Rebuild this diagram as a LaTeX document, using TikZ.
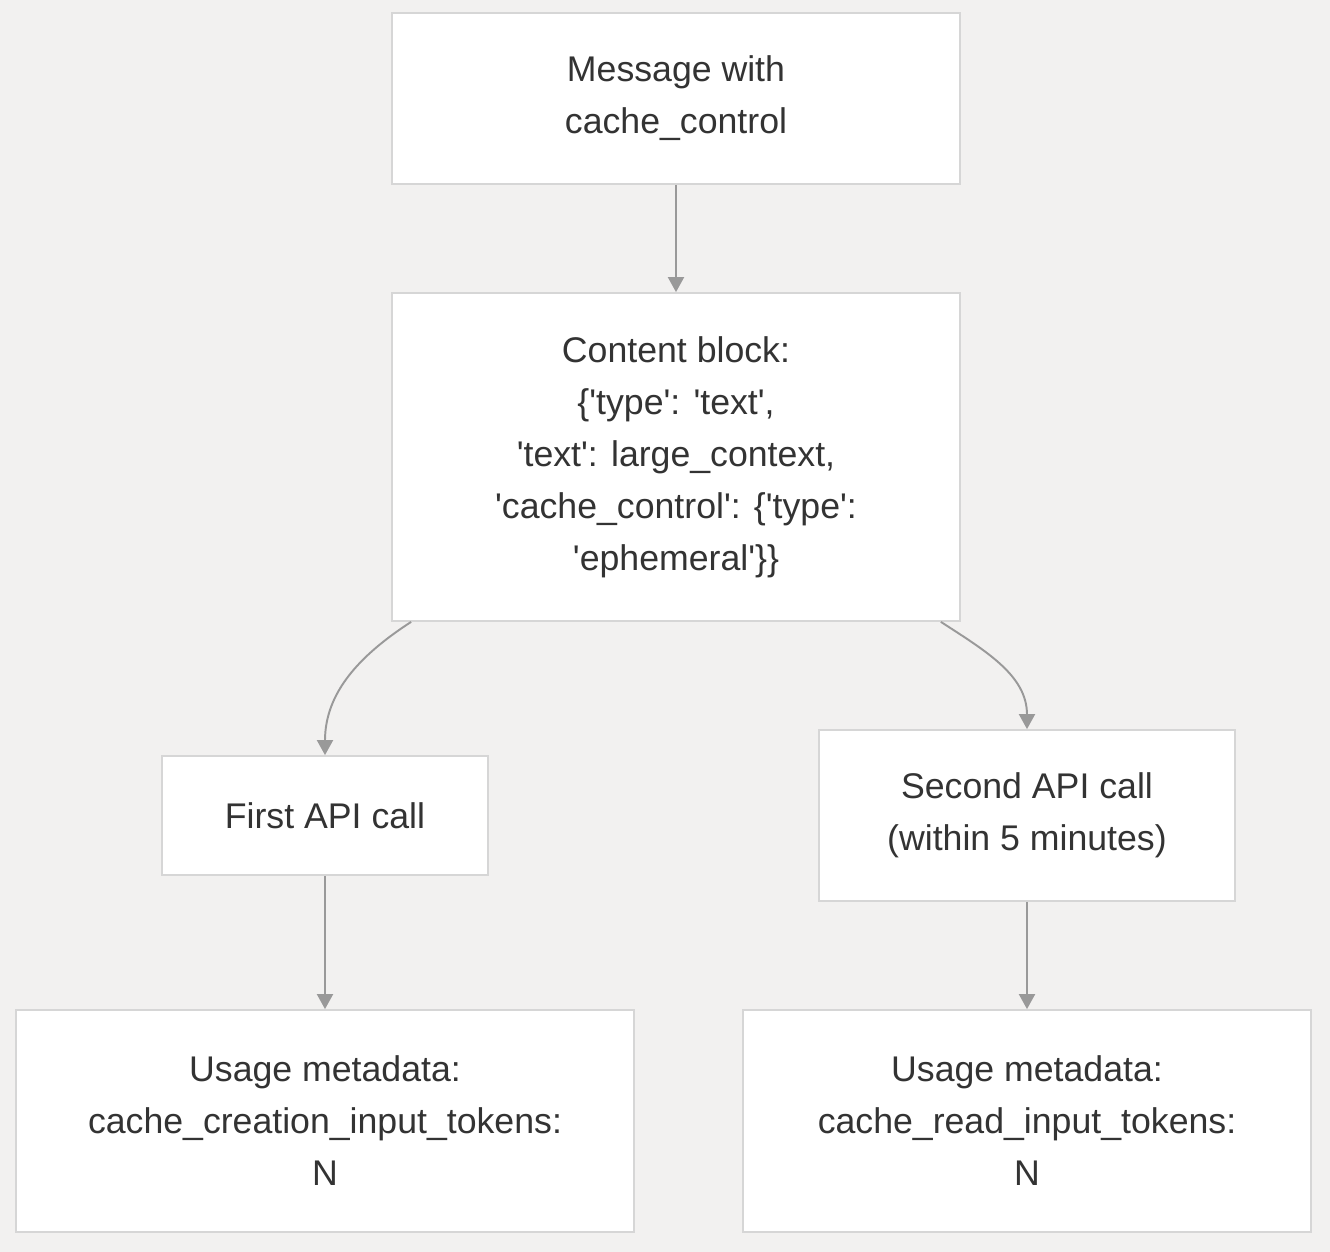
\documentclass[tikz,border=0pt]{standalone}
\usepackage{fontspec}
\setmainfont{Liberation Sans}
\usepackage{tikz}
\usetikzlibrary{arrows.meta}
\usepackage{xcolor}
\definecolor{bgcol}{HTML}{F2F1F0}
\definecolor{boxline}{HTML}{D6D6D6}
\definecolor{linkcol}{HTML}{999999}
\definecolor{txtcol}{HTML}{333333}
\newcommand{\tq}{\textquotesingle{}}
\tikzstyle{box} = [rectangle, draw=boxline, line width=1pt, fill=white, text=txtcol, align=center, font=\fontsize{20.3}{29.6}\selectfont, inner sep=0pt]
\tikzstyle{arrow} = [draw=linkcol, line width=1.1pt, -{Triangle[width=0.32cm,length=0.3cm]}]

\begin{document}
\begin{tikzpicture}
	%background
	\fill[bgcol] (0,0) rectangle (26.6,-25.04);
	\useasboundingbox (0,0) rectangle (26.6,-25.04);
	%Message
	\node[box, minimum width=11.36cm, minimum height=3.42cm] (msg) at (13.52,-1.97) {Message with\\cache\_control};
	%Content block
	\node[box, minimum width=11.36cm, minimum height=6.56cm] (block) at (13.52,-9.14) {Content block:\\\{\tq type\tq: \tq text\tq,\\\tq text\tq: large\_context,\\\tq cache\_control\tq: \{\tq type\tq:\\\tq ephemeral\tq\}\}};
	%API calls
	\node[box, minimum width=6.52cm, minimum height=2.38cm] (first) at (6.5,-16.31) {First API call};
	\node[box, minimum width=8.32cm, minimum height=3.42cm] (second) at (20.54,-16.31) {Second API call\\(within 5 minutes)};
	%Usage
	\node[box, minimum width=12.36cm, minimum height=4.44cm] (usefirst) at (6.5,-22.42) {Usage metadata:\\cache\_creation\_input\_tokens:\\N};
	\node[box, minimum width=11.36cm, minimum height=4.44cm] (usesecond) at (20.54,-22.42) {Usage metadata:\\cache\_read\_input\_tokens:\\N};

	%links
	\draw[arrow] (msg) -- (block);
	\draw[arrow] ([xshift=0.4cm]block.south west) to[out=-147, in=90] (first.north);
	\draw[arrow] ([xshift=-0.4cm]block.south east) to[out=-33, in=90] (second.north);
	\draw[arrow] (first) -- (usefirst);
	\draw[arrow] (second) -- (usesecond);

\end{tikzpicture}
\end{document}
